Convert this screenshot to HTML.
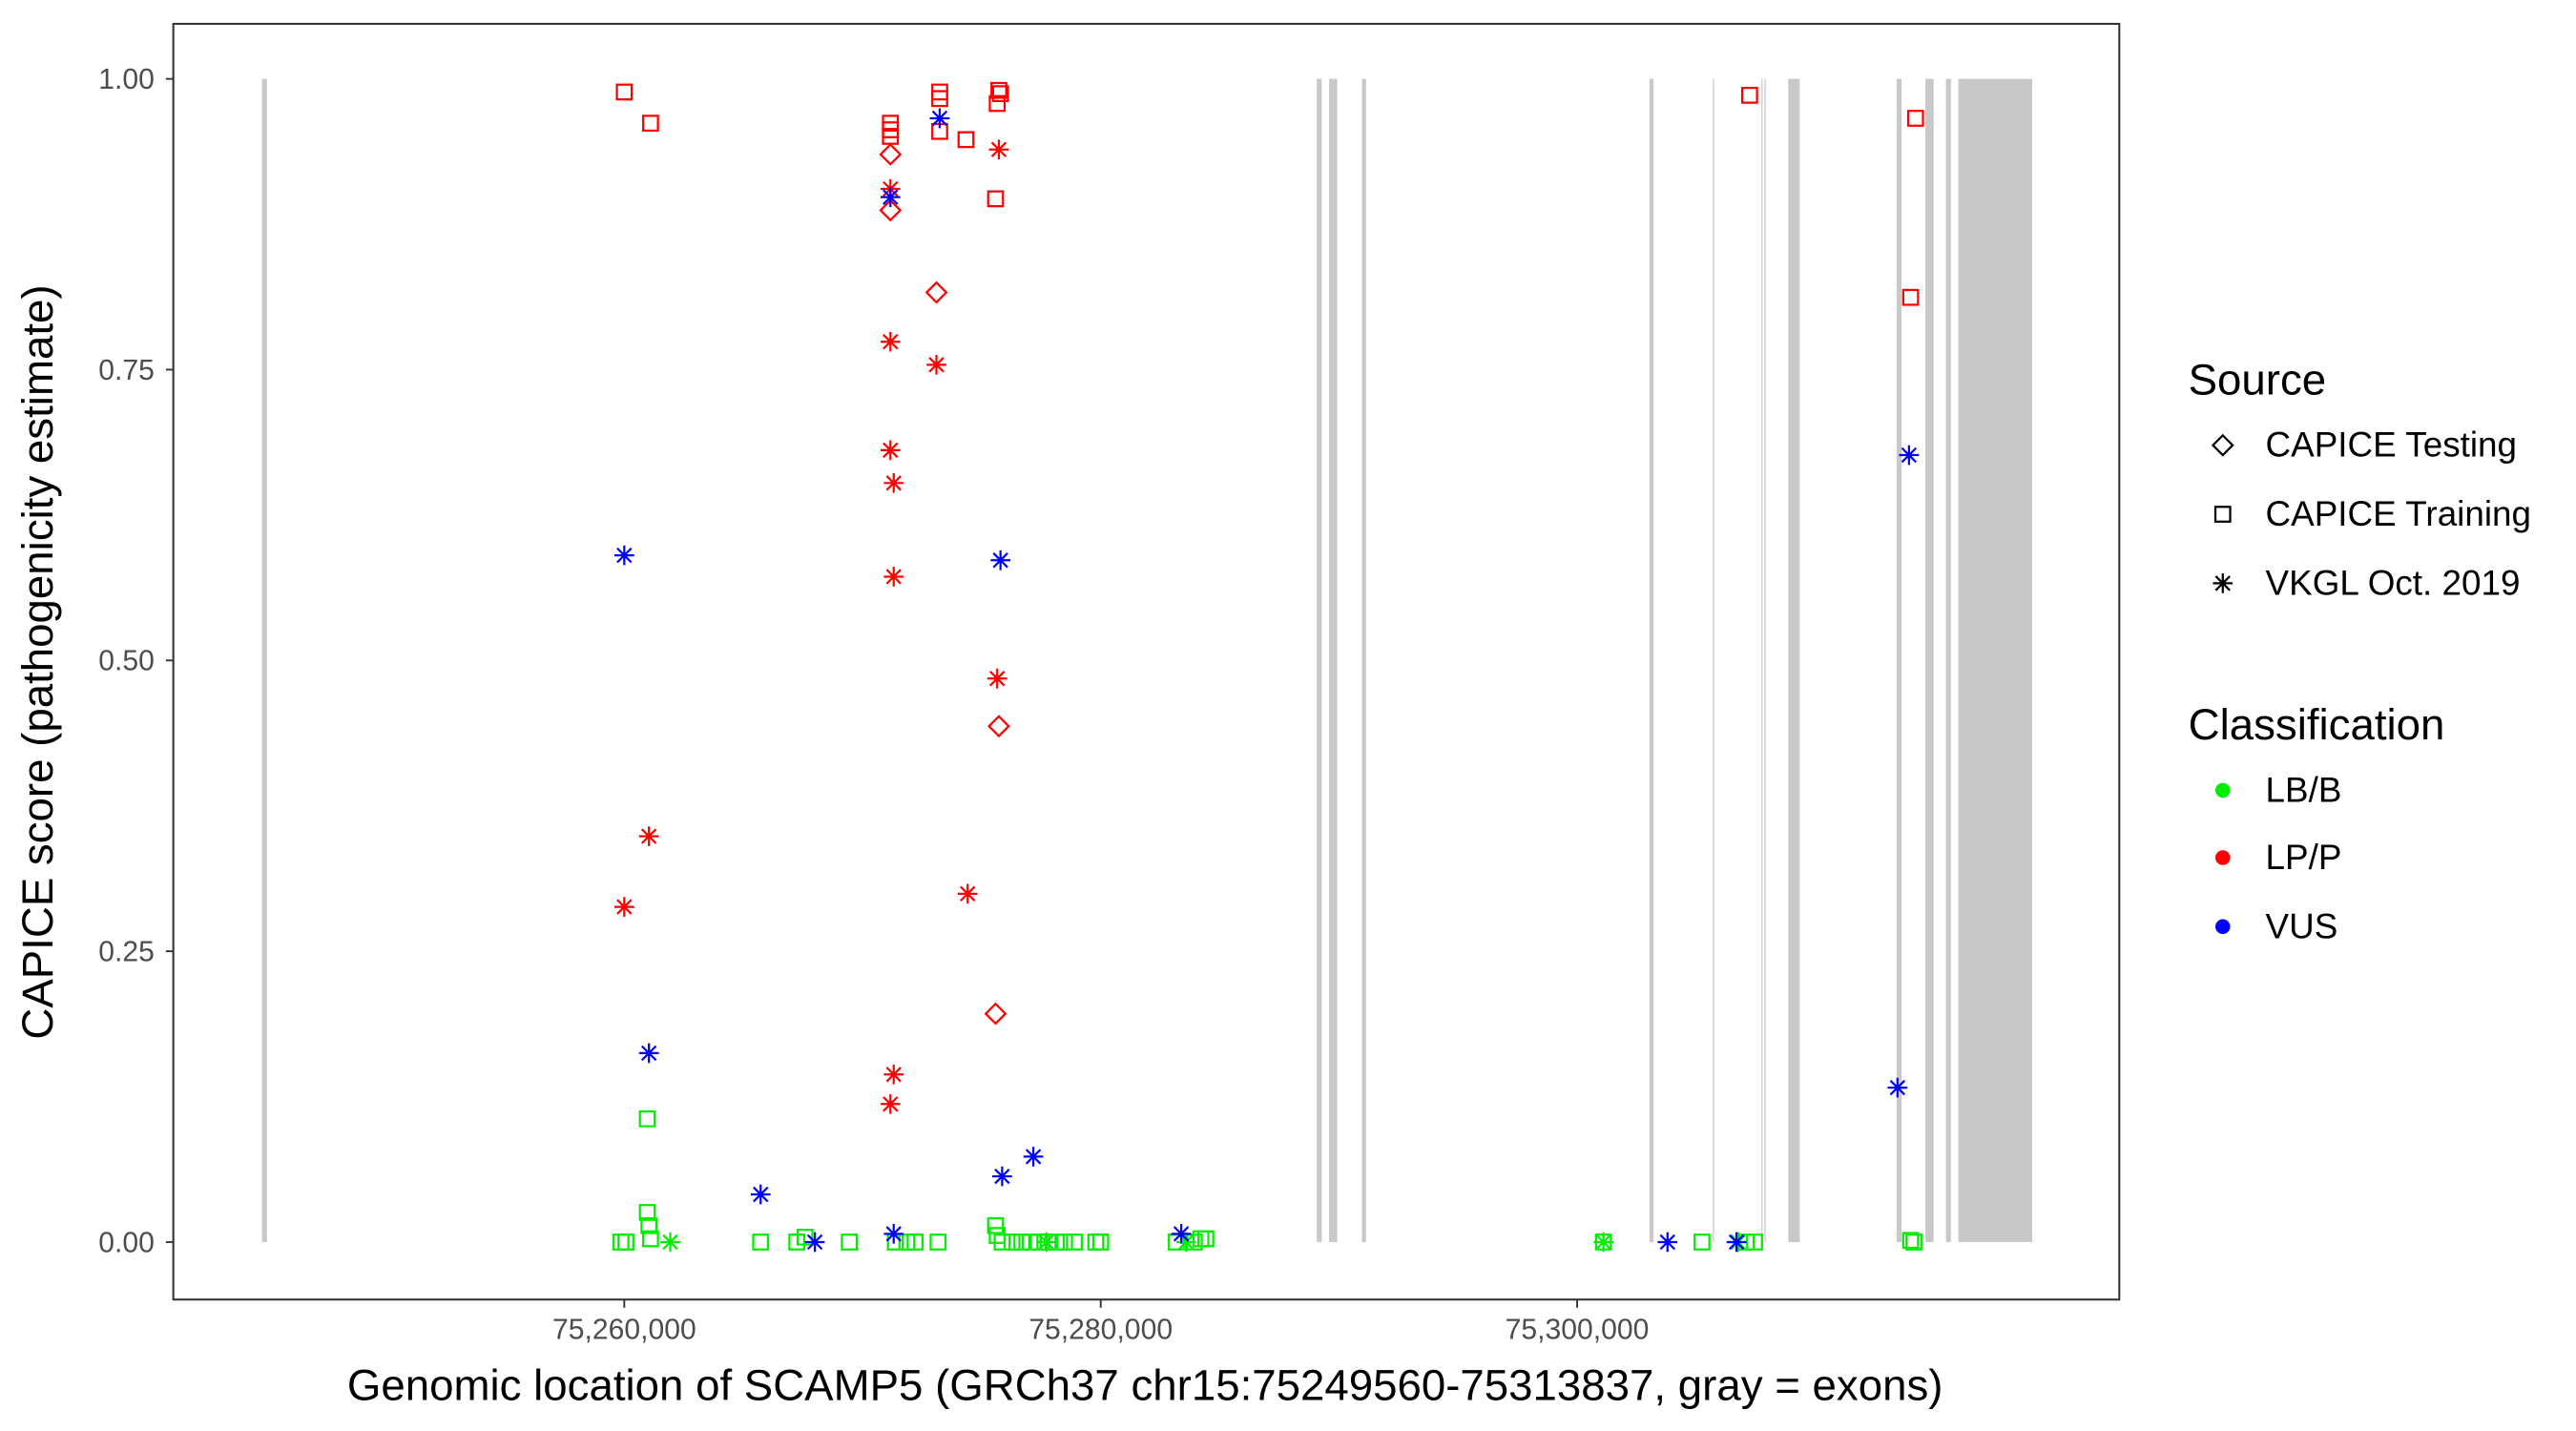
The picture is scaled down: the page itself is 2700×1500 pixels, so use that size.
<!DOCTYPE html>
<html><head><meta charset="utf-8"><style>html,body{margin:0;padding:0;background:#fff}svg{display:block}</style></head>
<body>
<svg id="s" width="2700" height="1500" viewBox="0 0 1568 871" preserveAspectRatio="none" xmlns="http://www.w3.org/2000/svg" font-family="Liberation Sans, sans-serif">
<rect x="0" y="0" width="1600" height="900" fill="#fff"/>
<g fill="#c8c8c8">
<rect x="159.5" y="48" width="3" height="708"/>
<rect x="801.5" y="48" width="3" height="708"/>
<rect x="809" y="48" width="5" height="708"/>
<rect x="829" y="48" width="2.5" height="708"/>
<rect x="1004" y="48" width="2.5" height="708"/>
<rect x="1042.5" y="48" width="1" height="708" fill="#d8d8d8"/>
<rect x="1072" y="48" width="1" height="708" fill="#d8d8d8"/>
<rect x="1074" y="48" width="1" height="708" fill="#d8d8d8"/>
<rect x="1088.5" y="48" width="7" height="708"/>
<rect x="1154.5" y="48" width="3" height="708"/>
<rect x="1172" y="48" width="5" height="708"/>
<rect x="1184.5" y="48" width="3" height="708"/>
<rect x="1192" y="48" width="45" height="708"/>
</g>
<g id="pts"></g>
<rect x="105.5" y="14.5" width="1184.5" height="776.5" fill="none" stroke="#333" stroke-width="1.2"/>
<g stroke="#333" stroke-width="1.1">
<line x1="101" x2="105.5" y1="48" y2="48"/><line x1="101" x2="105.5" y1="225" y2="225"/><line x1="101" x2="105.5" y1="402" y2="402"/><line x1="101" x2="105.5" y1="579" y2="579"/><line x1="101" x2="105.5" y1="756" y2="756"/>
<line x1="380" x2="380" y1="791" y2="796"/><line x1="670" x2="670" y1="791" y2="796"/><line x1="960" x2="960" y1="791" y2="796"/>
</g>
<g font-size="17.5" fill="#4d4d4d" text-anchor="end">
<text x="94" y="54">1.00</text><text x="94" y="231">0.75</text><text x="94" y="408">0.50</text><text x="94" y="585">0.25</text><text x="94" y="762">0.00</text>
</g>
<g font-size="17.5" fill="#4d4d4d" text-anchor="middle">
<text x="380" y="815">75,260,000</text><text x="670" y="815">75,280,000</text><text x="960" y="815">75,300,000</text>
</g>
<text x="697" y="852" font-size="26.5" text-anchor="middle">Genomic location of SCAMP5 (GRCh37 chr15:75249560-75313837, gray = exons)</text>
<text transform="translate(32,403) rotate(-90)" font-size="26.5" text-anchor="middle">CAPICE score (pathogenicity estimate)</text>
<text x="1332" y="240" font-size="26.5">Source</text>
<text x="1379" y="278" font-size="21.4">CAPICE Testing</text>
<text x="1379" y="320" font-size="21.4">CAPICE Training</text>
<text x="1379" y="362" font-size="21.4">VKGL Oct. 2019</text>
<text x="1332" y="450" font-size="26.5">Classification</text>
<text x="1379" y="488" font-size="21.4">LB/B</text>
<text x="1379" y="529" font-size="21.4">LP/P</text>
<text x="1379" y="571" font-size="21.4">VUS</text>
<g id="leg"></g>
</svg>
<script>
var NS="http://www.w3.org/2000/svg";
function mk(t,a,p){var e=document.createElementNS(NS,t);for(var k in a)e.setAttribute(k,a[k]);p.appendChild(e);return e;}
function sq(x,y,c,p){mk("rect",{x:x-4.5,y:y-4.5,width:9,height:9,fill:"none",stroke:c,"stroke-width":1.3},p);}
function di(x,y,c,p){mk("polygon",{points:(x)+","+(y-6)+" "+(x+6)+","+y+" "+x+","+(y+6)+" "+(x-6)+","+y,fill:"none",stroke:c,"stroke-width":1.3},p);}
function as(x,y,c,p){var d="M"+(x-6)+" "+y+"H"+(x+6)+"M"+x+" "+(y-6)+"V"+(y+6)+"M"+(x-4.3)+" "+(y-4.3)+"L"+(x+4.3)+" "+(y+4.3)+"M"+(x-4.3)+" "+(y+4.3)+"L"+(x+4.3)+" "+(y-4.3);mk("path",{d:d,stroke:c,"stroke-width":1.3,fill:"none"},p);}
var g=document.getElementById("pts");
var R="#ff0000",B="#0000ff",G="#00ee00";
var gs=[[394,681],[394,738],[395,746],[396,754],[378,756],[381,756],[463,756],[485,756],[490,753],[517,756],[545,756],[552,756],[557,756],[571,756],[606,746],[607,752],[610,756],[616,756],[622,756],[627,756],[632,756],[638,756],[643,756],[648,756],[654,756],[667,756],[670,756],[716,756],[727,756],[731,754],[734,754],[976,756],[1036,756],[1063,756],[1068,756],[1165,756],[1163,755]];
gs.forEach(function(p){sq(p[0],p[1],G,g);});
[[408,756],[637,756],[722,756],[976,756],[1058,756]].forEach(function(p){as(p[0],p[1],G,g);});
[[380,56],[396,75],[542,75],[542,79],[542,83],[572,56],[572,60],[572,80],[588,85],[606,121],[608,55],[609,57],[607,63],[1065,58],[1166,72],[1163,181]].forEach(function(p){sq(p[0],p[1],R,g);});
[[542,94],[542,128],[570,178],[608,442],[606,617]].forEach(function(p){di(p[0],p[1],R,g);});
[[542,115],[542,208],[542,274],[544,294],[544,351],[608,91],[570,222],[607,413],[395,509],[380,552],[589,544],[544,654],[542,672]].forEach(function(p){as(p[0],p[1],R,g);});
[[380,338],[542,120],[572,72],[609,341],[1162,277],[395,641],[463,727],[610,716],[629,704],[1155,662],[544,751],[496,756],[719,751],[1015,756],[1057,756]].forEach(function(p){as(p[0],p[1],B,g);});
var l=document.getElementById("leg");
di(1353,271,"#000",l);sq(1353,313,"#000",l);as(1353,355,"#000",l);
mk("circle",{cx:1353,cy:481,r:4.5,fill:G},l);mk("circle",{cx:1353,cy:522,r:4.5,fill:R},l);mk("circle",{cx:1353,cy:564,r:4.5,fill:B},l);
</script>
</body></html>
